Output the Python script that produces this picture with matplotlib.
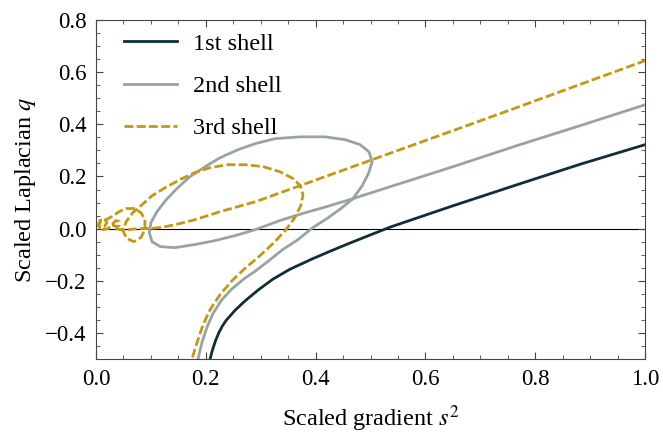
import numpy as np
import matplotlib
matplotlib.use('Agg')
import matplotlib.pyplot as plt
from matplotlib.ticker import MultipleLocator

# 1st shell
s1_x = [0.203, 0.208, 0.212, 0.218, 0.224, 0.230, 0.237, 0.253, 0.271, 0.295, 0.322, 0.353, 0.395,
        0.425, 0.457, 0.495, 0.536, 0.645, 0.772, 0.882, 1.0]
s1_q = [-0.54, -0.498, -0.466, -0.428, -0.398, -0.374, -0.352, -0.314, -0.278, -0.236, -0.194, -0.156, -0.115,
        -0.088, -0.060, -0.028, 0.006, 0.084, 0.172, 0.247, 0.322]

# 2nd shell
s2_x = [0.182, 0.186, 0.193, 0.202, 0.213, 0.228, 0.246, 0.268, 0.290, 0.313, 0.339, 0.368,
        0.395, 0.423, 0.446, 0.468, 0.485, 0.497, 0.503, 0.497, 0.481, 0.454, 0.417, 0.372,
        0.326, 0.290, 0.259, 0.226, 0.199, 0.171, 0.149, 0.128, 0.111, 0.100, 0.097, 0.102,
        0.117, 0.144, 0.180, 0.217, 0.253, 0.290, 0.335, 0.381, 0.426, 0.468, 0.536, 0.645,
        0.772, 0.882, 1.0]
s2_q = [-0.54, -0.498, -0.437, -0.379, -0.326, -0.276, -0.234, -0.195, -0.163, -0.126, -0.082, -0.042,
        0.004, 0.042, 0.077, 0.115, 0.165, 0.215, 0.257, 0.295, 0.322, 0.341, 0.352, 0.352,
        0.345, 0.326, 0.303, 0.272, 0.238, 0.199, 0.157, 0.111, 0.065, 0.023, -0.015, -0.050,
        -0.069, -0.073, -0.061, -0.046, -0.027, -0.004, 0.031, 0.061, 0.088, 0.115, 0.161, 0.234,
        0.322, 0.395, 0.475]

# 3rd shell
s3_x = [0.171, 0.175, 0.184, 0.195, 0.208, 0.226, 0.248, 0.271, 0.299, 0.324, 0.346, 0.362,
        0.373, 0.377, 0.372, 0.359, 0.335, 0.304, 0.271, 0.240, 0.208, 0.180, 0.153, 0.126,
        0.102, 0.084, 0.067, 0.055, 0.049, 0.056, 0.069, 0.082, 0.089, 0.089, 0.082, 0.069,
        0.055, 0.042, 0.029, 0.018, 0.009, 0.004, 0.007, 0.015, 0.020, 0.015, 0.007, 0.005,
        0.013, 0.022, 0.029, 0.036, 0.042, 0.042, 0.036, 0.031, 0.035, 0.044, 0.058, 0.077,
        0.095, 0.117, 0.144, 0.180, 0.226, 0.290, 0.372, 0.554, 0.736, 1.0]
s3_q = [-0.54, -0.498, -0.437, -0.368, -0.310, -0.253, -0.199, -0.153, -0.103, -0.054, -0.004, 0.042,
        0.088, 0.130, 0.165, 0.192, 0.218, 0.238, 0.245, 0.245, 0.234, 0.215, 0.188, 0.157,
        0.126, 0.092, 0.061, 0.027, -0.008, -0.038, -0.050, -0.034, -0.004, 0.034, 0.061, 0.077,
        0.077, 0.065, 0.046, 0.034, 0.027, 0.015, 0.004, 0.008, 0.023, 0.038, 0.031, 0.011,
        -0.004, 0.0, 0.015, 0.031, 0.027, 0.011, 0.008, 0.015, 0.0, -0.004, -0.004, 0.0,
        0.0, 0.004, 0.015, 0.034, 0.065, 0.103, 0.165, 0.303, 0.441, 0.644]

plt.rcParams['font.family'] = ['Liberation Serif', 'DejaVu Serif']
plt.rcParams['mathtext.fontset'] = 'stix'
plt.rcParams['font.size'] = 17.5

fig, ax = plt.subplots(figsize=(6.63, 4.37), dpi=100)
fig.subplots_adjust(left=0.1448, right=0.973, bottom=0.1785, top=0.9542)

ax.axhline(0, color='black', lw=0.8, zorder=1)
ax.plot(s1_x, s1_q, color='#0f2e3a', lw=2.0, label='1st shell', zorder=3)
ax.plot(s2_x, s2_q, color='#97a5a2', lw=2.0, label='2nd shell', zorder=3)
ax.plot(s3_x, s3_q, color='#c59712', lw=2.0, ls=(0, (3.2, 1.2)), label='3rd shell', zorder=4)

ax.set_xlim(0, 1)
ax.set_ylim(-0.5, 0.8)
ax.xaxis.set_major_locator(MultipleLocator(0.2))
ax.xaxis.set_minor_locator(MultipleLocator(0.05))
ax.yaxis.set_major_locator(MultipleLocator(0.2))
ax.yaxis.set_minor_locator(MultipleLocator(0.05))
ax.tick_params(which='both', direction='in', top=True, right=True, color='#444444',
               labelsize=16.5)
ax.tick_params(which='major', length=5, width=0.8, pad=7)
ax.tick_params(which='minor', length=3, width=0.6)
for sp in ax.spines.values():
    sp.set_color('#444444')
    sp.set_linewidth(0.8)

ax.set_xlabel('Scaled gradient $s^2$', labelpad=10)
ax.set_ylabel('Scaled Laplacian $q$', labelpad=5)

ax.legend(loc='upper left', bbox_to_anchor=(0.051, 0.962), frameon=False, borderpad=0,
          borderaxespad=0, handlelength=2.18, handletextpad=0.66, labelspacing=0.83)

fig.savefig('out.png', dpi=100)
